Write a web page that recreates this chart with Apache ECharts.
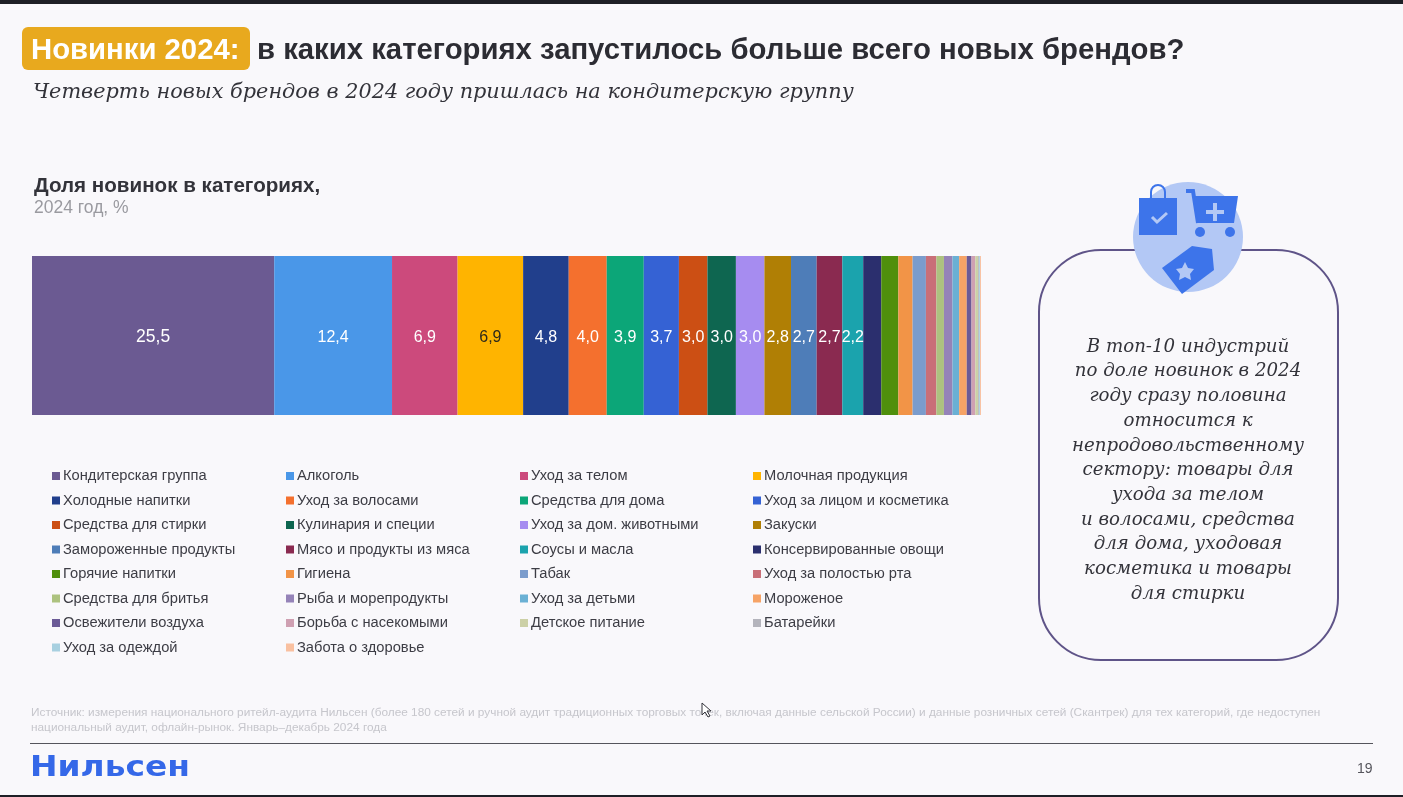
<!DOCTYPE html>
<html>
<head>
<meta charset="utf-8">
<script src="https://cdn.jsdelivr.net/npm/echarts@6/dist/echarts.min.js"></script>
<style>
  html, body { margin: 0; padding: 0; background: #f9f8fb; }
  #chart { width: 1403px; height: 797px; }
</style>
</head>
<body>
<div id="chart"></div>
<script>
var categories = ['Кондитерская группа', 'Алкоголь', 'Уход за телом', 'Молочная продукция',
  'Холодные напитки', 'Уход за волосами', 'Средства для дома', 'Уход за лицом и косметика',
  'Средства для стирки', 'Кулинария и специи', 'Уход за дом. животными', 'Закуски',
  'Замороженные продукты', 'Мясо и продукты из мяса', 'Соусы и масла', 'Консервированные овощи',
  'Горячие напитки', 'Гигиена', 'Табак', 'Уход за полостью рта',
  'Средства для бритья', 'Рыба и морепродукты', 'Уход за детьми', 'Мороженое',
  'Освежители воздуха', 'Борьба с насекомыми', 'Детское питание', 'Батарейки',
  'Уход за одеждой', 'Забота о здоровье'];
var shares = [25.5, 12.4, 6.9, 6.9, 4.8, 4.0, 3.9, 3.7, 3.0, 3.0, 3.0, 2.8, 2.7, 2.7, 2.2,
  1.9, 1.8, 1.5, 1.4, 1.1, 0.8, 0.9, 0.7, 0.8, 0.5, 0.4, 0.3, 0.1, 0.1, 0.1];
var colors = ['#6b5a92', '#4a97e8', '#cc4a7c', '#ffb400', '#213f8c', '#f4702e', '#0ca678', '#3562d4',
  '#cc4f14', '#0e6650', '#a68cf0', '#b07f05', '#4e7db8', '#8a2a50', '#1ba3ad', '#2b2f6e',
  '#4f8f0c', '#f29447', '#7b9ccc', '#c96f78', '#adc27f', '#9583b8', '#6ab0d4', '#f6a366',
  '#6b5a96', '#cfa0b2', '#ccd0a6', '#b4b4bc', '#a8d0e0', '#f9c0a0'];
var labelledCount = 15;
var legendColumnsLeft = [52, 286, 520, 753];
var noteLines = ['В топ-10 индустрий', 'по доле новинок в 2024', 'году сразу половина', 'относится к',
  'непродовольственному', 'сектору: товары для', 'ухода за телом', 'и волосами, средства',
  'для дома, уходовая', 'косметика и товары', 'для стирки'];

var SANS = '"Liberation Sans", Arial, sans-serif';
var SERIF = '"DejaVu Serif", serif';

var myChart = echarts.init(document.getElementById('chart'));

function txt(x, y, text, size, color, extra) {
  return {
    type: 'text', x: x, y: y,
    style: Object.assign({ text: text, fontSize: size, fill: color, fontFamily: SANS, textVerticalAlign: 'middle' }, extra || {})
  };
}

var series = categories.map(function (name, i) {
  return {
    type: 'bar', name: name, stack: 'total', data: [shares[i]], barWidth: '100%',
    itemStyle: { color: colors[i] },
    label: {
      show: i < labelledCount, position: 'inside', offset: [0, 2],
      color: name === 'Молочная продукция' ? '#2f2a1a' : '#fff',
      fontFamily: SANS, fontSize: i === 0 ? 17.5 : 16,
      formatter: function (p) { return p.value.toFixed(1).replace('.', ','); }
    }
  };
});

var legends = legendColumnsLeft.map(function (left, col) {
  return {
    orient: 'vertical', left: left, top: 468, itemWidth: 8, itemHeight: 8, itemGap: 8.5,
    icon: 'rect', selectedMode: false, padding: 0,
    textStyle: { fontFamily: SANS, fontSize: 14.7, color: '#3d3d45', padding: [0, 0, 0, -2], lineHeight: 16 },
    data: categories.filter(function (n, i) { return i % 4 === col; })
  };
});

var logo = txt(30, 768, 'Нильсен', 29, '#3568e8', { fontFamily: '"DejaVu Sans", sans-serif', fontWeight: 'bold' });
logo.scaleX = 1.135;

var graphics = [
  { type: 'rect', shape: { x: 0, y: 0, width: 1403, height: 4 }, style: { fill: '#1e1f26' } },
  { type: 'rect', shape: { x: 0, y: 795, width: 1403, height: 2 }, style: { fill: '#1e1f26' } },
  { type: 'rect', shape: { x: 22, y: 27, width: 228, height: 43, r: 6 }, style: { fill: '#e8a91e' } },
  txt(31, 51, 'Новинки 2024:', 29.3, '#fff', { fontWeight: 'bold' }),
  txt(257, 51, 'в каких категориях запустилось больше всего новых брендов?', 29.3, '#2c2c33', { fontWeight: 'bold' }),
  txt(33, 93, 'Четверть новых брендов в 2024 году пришлась на кондитерскую группу', 20.8, '#33333a', { fontFamily: SERIF, fontStyle: 'italic' }),
  txt(34, 186, 'Доля новинок в категориях,', 20.6, '#33333a', { fontWeight: 'bold' }),
  txt(34, 208, '2024 год, %', 17.5, '#9a9aa0'),

  // правая плашка
  { type: 'rect', shape: { x: 1039, y: 250, width: 299, height: 410, r: 62 }, style: { fill: 'none', stroke: '#5f5488', lineWidth: 2 } },
  { type: 'circle', shape: { cx: 1188, cy: 237, r: 55 }, style: { fill: '#b3c8f5' } },
  { type: 'arc', shape: { cx: 1158, cy: 192, r: 7, startAngle: Math.PI, endAngle: 0 }, style: { fill: 'none', stroke: '#3d74ea', lineWidth: 2 } },
  { type: 'polyline', shape: { points: [[1151, 192], [1151, 198]] }, style: { stroke: '#3d74ea', lineWidth: 2 } },
  { type: 'polyline', shape: { points: [[1165, 192], [1165, 198]] }, style: { stroke: '#3d74ea', lineWidth: 2 } },
  { type: 'rect', shape: { x: 1139, y: 198, width: 38, height: 37 }, style: { fill: '#3d74ea' } },
  { type: 'polyline', shape: { points: [[1152, 217], [1157, 222], [1167, 213]] }, style: { fill: 'none', stroke: '#b3c8f5', lineWidth: 3 } },
  { type: 'polyline', shape: { points: [[1186, 191], [1193, 191], [1198, 223]] }, style: { fill: 'none', stroke: '#3d74ea', lineWidth: 4 } },
  { type: 'polygon', shape: { points: [[1194, 196], [1238, 196], [1234, 223], [1198, 223]] }, style: { fill: '#3d74ea' } },
  { type: 'circle', shape: { cx: 1200, cy: 232, r: 5 }, style: { fill: '#3d74ea' } },
  { type: 'circle', shape: { cx: 1230, cy: 232, r: 5 }, style: { fill: '#3d74ea' } },
  { type: 'rect', shape: { x: 1206, y: 210, width: 18, height: 4 }, style: { fill: '#b3c8f5' } },
  { type: 'rect', shape: { x: 1213, y: 203, width: 4, height: 18 }, style: { fill: '#b3c8f5' } },
  { type: 'polygon', shape: { points: [[1162, 268], [1192, 246], [1212, 249], [1214, 270], [1182, 294]] }, style: { fill: '#3d74ea' } },
  { type: 'polygon', shape: { points: [[1185, 262], [1188, 268], [1194, 269], [1190, 274], [1191, 280], [1185, 277], [1179, 280], [1180, 274], [1176, 269], [1182, 268]] }, style: { fill: '#b3c8f5' } },

  // подвал
  txt(31, 713, 'Источник: измерения национального ритейл-аудита Нильсен (более 180 сетей и ручной аудит традиционных торговых точек, включая данные сельской России) и данные розничных сетей (Скантрек) для тех категорий, где недоступен', 11.84, '#c6c6cc'),
  txt(31, 728, 'национальный аудит, офлайн-рынок. Январь–декабрь 2024 года', 11.84, '#c6c6cc'),
  { type: 'polygon', shape: { points: [[702, 703], [702, 715], [705, 712], [708, 717], [710, 716], [707, 711], [711, 711]] }, style: { fill: '#fff', stroke: '#33333a', lineWidth: 1 } },
  { type: 'rect', shape: { x: 30, y: 743, width: 1343, height: 1 }, style: { fill: '#55555c' } },
  logo,
  txt(1357, 769, '19', 14, '#55555c')
];

noteLines.forEach(function (line, i) {
  graphics.push(txt(1188, 347 + i * 24.7, line, 18.2, '#33333a', { fontFamily: SERIF, fontStyle: 'italic', textAlign: 'center' }));
});

myChart.setOption({
  animation: false,
  backgroundColor: '#f9f8fb',
  grid: { left: 32, top: 256, width: 949, height: 159 },
  xAxis: {
    type: 'value', show: false, min: 0,
    max: shares.reduce(function (a, b) { return a + b; }, 0)
  },
  yAxis: { type: 'category', show: false, data: ['2024'] },
  legend: legends,
  graphic: { elements: graphics },
  series: series
});
</script>
</body>
</html>
